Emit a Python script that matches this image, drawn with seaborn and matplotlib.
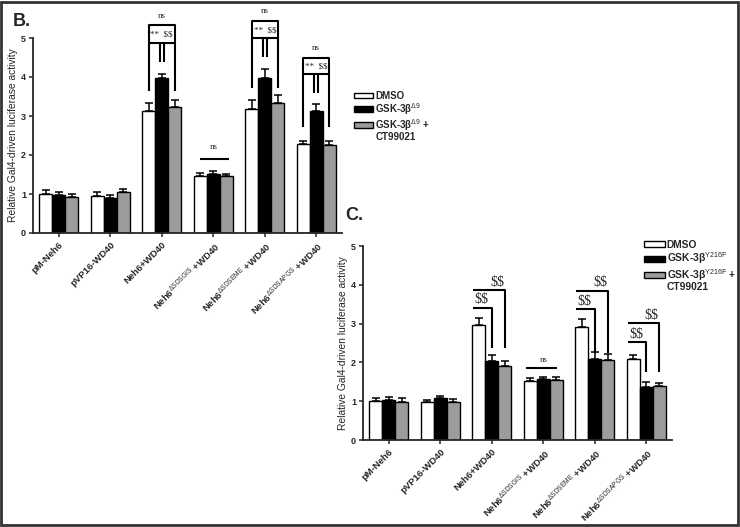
import numpy as np
import pandas as pd
import seaborn as sns
import matplotlib.pyplot as plt
from matplotlib.patches import Patch, Rectangle

sns.set_theme(style='ticks')
plt.rcParams['font.family'] = ['Liberation Sans', 'DejaVu Sans']
plt.rcParams['mathtext.fontset'] = 'custom'
plt.rcParams['mathtext.rm'] = 'Liberation Sans'
plt.rcParams['mathtext.it'] = 'Liberation Sans:italic'
plt.rcParams['mathtext.bf'] = 'Liberation Sans:bold'

# ---------------- data ----------------
groups = ['pM-Neh6', 'pVP16-WD40', 'Neh6+WD40',
          r'Neh6$^{\Delta\mathrm{SDSGIS}}$ +WD40',
          r'Neh6$^{\Delta\mathrm{SDSEME}}$ +WD40',
          r'Neh6$^{\Delta\mathrm{SDSAPGS}}$ +WD40']

b_labels = ['DMSO', r'GSK-3β$^{\Delta9}$', r'GSK-3β$^{\Delta9}$ +']
b_extra = 'CT99021'
b_dmso = [1.00, 0.94, 3.12, 1.47, 3.18, 2.27]
b_dmso_err = [0.10, 0.10, 0.22, 0.06, 0.22, 0.08]
b_gsk = [0.97, 0.89, 3.98, 1.52, 3.98, 3.12]
b_gsk_err = [0.08, 0.08, 0.10, 0.07, 0.22, 0.18]
b_ct = [0.93, 1.05, 3.22, 1.46, 3.33, 2.25]
b_ct_err = [0.08, 0.08, 0.20, 0.06, 0.22, 0.10]

c_labels = ['DMSO', r'GSK-3β$^{\mathrm{Y216F}}$', r'GSK-3β$^{\mathrm{Y216F}}$ +']
c_extra = 'CT99021'
c_dmso = [1.00, 0.97, 2.96, 1.51, 2.90, 2.08]
c_dmso_err = [0.07, 0.07, 0.18, 0.08, 0.22, 0.10]
c_y216f = [1.04, 1.07, 2.04, 1.56, 2.10, 1.36]
c_y216f_err = [0.08, 0.07, 0.16, 0.07, 0.16, 0.13]
c_ct = [0.98, 0.99, 1.92, 1.54, 2.07, 1.39]
c_ct_err = [0.10, 0.07, 0.12, 0.08, 0.14, 0.08]

colors = ['white', 'black', '#9c9c9c']
ylabel = 'Relative Gal4-driven luciferase activity'

W, H = 740, 527
fig = plt.figure(figsize=(W / 100, H / 100), dpi=100)


def panel(rect, labels, means, errs):
    l, t, r, b = rect
    ax = fig.add_axes([l / W, 1 - b / H, (r - l) / W, (b - t) / H])
    df = pd.DataFrame({
        'group': groups * 3,
        'treat': np.repeat(labels, len(groups)),
        'value': np.concatenate(means),
        'err': np.concatenate(errs),
    })
    sns.barplot(data=df, x='group', y='value', hue='treat', hue_order=labels,
                palette=colors, width=0.75, gap=0, edgecolor='black',
                linewidth=1.0, errorbar=None, legend=False, ax=ax)
    for cont, ev in zip(ax.containers, errs):
        for bar, e in zip(cont, ev):
            x = bar.get_x() + bar.get_width() / 2
            y = bar.get_height()
            ax.errorbar([x], [y], yerr=[[0], [e]], fmt='none', ecolor='black',
                        elinewidth=1.1, capsize=3, capthick=1.1, zorder=1)
    ax.set_ylim(0, 5)
    ax.set_xlim(-0.5, 5.5)
    ax.set_yticks(range(6))
    sns.despine(ax=ax)
    for s in ['left', 'bottom']:
        ax.spines[s].set_linewidth(1.3)
    ax.tick_params(axis='both', length=3, width=1.1, labelsize=6.5, pad=2)
    for lab in ax.get_yticklabels():
        lab.set_fontweight('bold')
    ax.set_xticks(range(len(groups)))
    ax.set_xticklabels(groups, rotation=45, ha='right', rotation_mode='anchor',
                       fontsize=6.8, fontweight='bold')
    ax.set_xlabel('')
    ax.set_ylabel(ylabel, fontsize=7.4, labelpad=2)
    return ax


axB = panel((33, 38, 342, 233), b_labels, [b_dmso, b_gsk, b_ct],
            [b_dmso_err, b_gsk_err, b_ct_err])
axC = panel((363, 246, 672, 440), c_labels, [c_dmso, c_y216f, c_ct],
            [c_dmso_err, c_y216f_err, c_ct_err])

lw = 1.5
serif = 'Liberation Serif'


def line(ax, xs, ys):
    ax.plot(xs, ys, color='black', lw=lw, clip_on=False, solid_capstyle='butt')


# Panel B brackets
for i, top, inner, lbot, mbot, ns_y, txt_y in [
        (2, 5.33, 4.88, 3.65, 4.39, 5.57, 5.08),
        (4, 5.44, 5.00, 3.72, 4.52, 5.68, 5.19),
        (5, 4.50, 4.08, 2.73, 3.58, 4.74, 4.27)]:
    line(axB, [i - 0.25, i - 0.25, i + 0.25, i + 0.25], [lbot, top, top, lbot])
    line(axB, [i - 0.25, i + 0.25], [inner, inner])
    line(axB, [i - 0.035, i - 0.035], [mbot, inner])
    line(axB, [i + 0.035, i + 0.035], [mbot, inner])
    axB.text(i, txt_y, '**  \\$\\$', ha='center', va='center', fontsize=6.5,
             family=serif, clip_on=False)
    axB.text(i, ns_y, 'ns', ha='center', va='center', fontsize=6.5,
             family=serif, clip_on=False)
line(axB, [3 - 0.26, 3 + 0.31], [1.89, 1.89])
axB.text(3, 2.2, 'ns', ha='center', va='center', fontsize=6.5, family=serif)

# Panel C brackets
for i, y1, y2, bot in [(2, 3.41, 3.87, 2.36), (4, 3.38, 3.85, 2.24), (5, 2.52, 3.02, 1.76)]:
    line(axC, [i - 0.36, i, i], [y1, y1, bot])
    line(axC, [i - 0.36, i + 0.25, i + 0.25], [y2, y2, bot])
    axC.text(i - 0.2, y1 + 0.2, '\\$\\$', ha='center', va='center', fontsize=10,
             family=serif)
    axC.text(i + 0.1, y2 + 0.2, '\\$\\$', ha='center', va='center', fontsize=10,
             family=serif)
line(axC, [3 - 0.34, 3 + 0.26], [1.86, 1.86])
axC.text(3, 2.07, 'ns', ha='center', va='center', fontsize=6.5, family=serif)

# Legends
legs = []
for ax, labels, extra, (lx, ly), fs, sp in [
        (axB, b_labels, b_extra, (354, 91), 7, 0.0),
        (axC, c_labels, c_extra, (644, 240), 7.4, 0.05)]:
    handles = [Patch(facecolor=c, edgecolor='black', lw=1) for c in colors]
    leg = ax.legend(handles, labels, loc='upper left',
                    bbox_to_anchor=(lx / W, 1 - ly / H),
                    bbox_transform=fig.transFigure, frameon=False, fontsize=fs,
                    handlelength=2.0, handleheight=0.55, labelspacing=sp,
                    handletextpad=0.2, borderaxespad=0, borderpad=0)
    for t in leg.get_texts():
        t.set_fontweight('bold')
    legs.append((leg, extra, fs))

fig.canvas.draw()
for leg, extra, fs in legs:
    bb = leg.get_texts()[2].get_window_extent()
    fig.text(bb.x0 / W, (bb.y0 + 1) / H, extra, ha='left', va='top', fontsize=fs,
             fontweight='bold')

fig.text(13 / W, 1 - 26 / H, 'B.', fontsize=13, fontweight='bold')
fig.text(345 / W, 1 - 220 / H, 'C.', fontsize=13, fontweight='bold')

fig.patches.append(Rectangle((0.002, 0.003), 0.995, 0.994, transform=fig.transFigure,
                             fill=False, lw=2, edgecolor='#333333'))

fig.savefig('out.png', dpi=100)
